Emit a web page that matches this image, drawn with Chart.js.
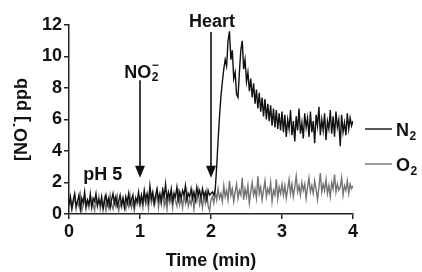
<!DOCTYPE html>
<html>
<head>
<meta charset="utf-8">
<script src="https://cdn.jsdelivr.net/npm/chart.js@4.4.0/dist/chart.umd.min.js"></script>
<style>
  html, body { margin: 0; padding: 0; background: #fff; }
  #wrap { width: 422px; height: 272px; position: relative; }
</style>
</head>
<body>
<div id="wrap"><canvas id="nochart"></canvas></div>
<script>
// sampling interval of the trace, in minutes
const sampleStep = 0.02;

// [NO] in ppb, one value per sample, 0 - 4 min
const n2Values = [
  0.6, 1.1, 0.4, 0.9, 1.3, 0.5, 0.8, 1.2, 0.3, 1.0,
  0.7, 1.4, 0.5, 0.9, 0.6, 1.2, 0.4, 1.0, 0.8, 1.3,
  0.5, 0.9, 0.6, 1.1, 0.3, 0.8, 1.2, 0.6, 1.0, 0.4,
  0.9, 1.3, 0.7, 1.1, 0.5, 0.8, 1.2, 0.6, 1.0, 0.4,
  1.1, 0.7, 1.3, 0.6, 0.9, 1.2, 0.5, 1.0, 0.8, 1.4, 0.7,
  1.2, 0.7, 1.5, 0.9, 1.3, 0.8, 1.8, 1.0, 1.4, 0.7,
  1.2, 1.6, 0.9, 1.3, 0.8, 1.5, 1.1, 1.9, 0.9, 1.4,
  1.0, 1.6, 0.8, 1.3, 1.1, 1.7, 0.9, 1.4, 1.0, 1.5,
  1.2, 1.8, 0.9, 1.3, 1.1, 1.6, 1.0, 1.4, 0.9, 1.7,
  1.2, 1.5, 1.0, 1.6, 1.1, 1.4, 0.9, 1.5, 1.2, 1.3,
  1.4, 1.2,
  1.6, 3.0, 4.7, 6.2, 7.5, 8.4, 9.2, 9.8, 9.4, 11.0,
  11.6, 9.8, 10.4, 8.6, 9.0, 7.6, 7.4, 9.0, 10.4, 11.0,
  9.2, 9.8, 8.4, 9.0, 7.8, 8.6, 7.4, 8.3, 7.0, 7.9,
  6.7, 7.7, 6.5, 7.4, 6.2, 7.3, 6.0, 7.0, 5.9, 6.9,
  5.6, 6.7, 5.5, 6.6, 5.4, 6.4, 5.3, 6.5,
  5.2, 6.3, 4.9, 6.0, 5.4, 6.6, 5.0, 5.9, 4.6, 6.2,
  5.3, 6.7, 5.1, 5.8, 4.8, 6.4, 5.5, 6.1, 4.9, 6.5,
  5.2, 5.9, 4.5, 6.3, 5.6, 6.8, 5.0, 6.0, 5.3, 6.4,
  4.7, 5.9, 5.4, 6.6, 5.1, 6.2, 4.9, 6.5, 5.5, 6.0,
  4.3, 6.3, 5.2, 5.8, 5.0, 6.4, 5.4, 6.1, 5.6, 5.9
];

const o2Values = [
  0.4, 0.9, 0.2, 0.7, 1.1, 0.3, 0.8, 0.5, 1.2, 0.2,
  0.6, 1.0, 0.3, 0.8, 0.4, 1.3, 0.5, 0.7, 0.2, 0.9,
  0.6, 1.1, 0.3, 0.7, 0.5, 1.0, 0.2, 0.8, 0.4, 1.2,
  0.6, 0.3, 0.9, 0.5, 1.1, 0.2, 0.7, 0.4, 1.0, 0.6,
  0.3, 0.9, 0.5, 1.2, 0.4, 0.8, 0.2, 1.0, 0.6, 0.9, 0.5,
  1.0, 0.4, 1.3, 0.6, 0.9, 0.3, 1.5, 0.7, 1.1, 0.5,
  0.8, 1.4, 0.4, 1.0, 0.6, 1.7, 0.5, 0.9, 0.3, 1.2,
  0.7, 1.1, 0.4, 1.3, 0.8, 0.5, 1.6, 0.6, 1.0, 0.4,
  1.2, 0.7, 1.4, 0.5, 0.9, 0.6, 1.3, 0.3, 1.1, 0.8,
  1.5, 0.6, 1.0, 0.4, 1.2, 0.7, 1.4, 0.5, 0.2, 0.9,
  1.1, 0.7, 1.4, 0.9, 1.6, 1.0, 1.3, 0.8, 1.8, 1.1,
  1.5, 0.9, 2.1, 1.2, 1.6, 0.8, 1.4, 1.9, 1.0, 1.5,
  1.2, 2.3, 0.9, 1.6, 1.1, 1.8, 0.7, 1.4, 2.0, 1.2,
  1.6, 1.0, 2.4, 1.3, 1.7, 0.9, 1.5, 2.1, 1.1, 1.6,
  1.3, 2.0, 0.8, 1.5, 1.2, 2.2, 1.0, 1.7, 1.3, 1.9,
  1.2, 1.8, 1.0, 1.6, 2.2, 1.3, 1.9, 1.1, 1.7, 2.4,
  1.4, 1.8, 1.2, 2.0, 1.5, 1.9, 1.0, 1.7, 2.3, 1.4,
  1.8, 1.3, 2.1, 1.6, 0.9, 1.7, 2.6, 1.4, 1.9, 1.5,
  2.2, 1.3, 1.8, 1.1, 2.0, 1.6, 2.5, 1.4, 1.9, 1.5,
  1.7, 2.3, 1.2, 1.8, 1.5, 2.1, 1.3, 1.9, 1.6, 1.8
];

const xTicks = [0, 1, 2, 3, 4];
const yTicks = [0, 2, 4, 6, 8, 10, 12];

// events marked on the trace (time in min, arrow from/to in ppb)
const events = [
  { text: 'NO', sub: '2', sup: '\u2212', x: 1, from: 8.5, to: 2.3 },
  { text: 'Heart', x: 2, from: 11.55, to: 2.3 }
];
const phNote = { text: 'pH 5', x: 0.2, y: 1.9 };

const font = 'Liberation Sans, Arial, Helvetica, sans-serif';
const ink = '#111';

const toPoints = vals => vals.map((v, i) => ({ x: i * sampleStep, y: v }));

const annotate = {
  id: 'annotate',
  afterDatasetsDraw(chart) {
    const { ctx, scales: { x, y }, chartArea } = chart;
    ctx.save();
    ctx.strokeStyle = ink;
    ctx.fillStyle = ink;
    ctx.lineWidth = 1.6;
    events.forEach(ev => {
      const px = x.getPixelForValue(ev.x);
      const top = y.getPixelForValue(ev.from);
      const tip = y.getPixelForValue(ev.to);
      ctx.beginPath();
      ctx.moveTo(px, top);
      ctx.lineTo(px, tip - 8);
      ctx.stroke();
      ctx.beginPath();
      ctx.moveTo(px - 5, tip - 12);
      ctx.lineTo(px + 5, tip - 12);
      ctx.lineTo(px, tip);
      ctx.closePath();
      ctx.fill();

      ctx.textBaseline = 'alphabetic';
      ctx.textAlign = 'left';
      ctx.font = 'bold 18px ' + font;
      const w = ctx.measureText(ev.text).width;
      let subW = 0;
      if (ev.sub) {
        ctx.font = 'bold 12px ' + font;
        subW = ctx.measureText(ev.sub).width;
      }
      const base = ev.sub ? top - 2 : top - 5;
      const x0 = px - (w + subW) / 2 + 1;
      ctx.font = 'bold 18px ' + font;
      ctx.fillText(ev.text, x0, base);
      if (ev.sub) {
        ctx.font = 'bold 12px ' + font;
        ctx.fillText(ev.sub, x0 + w + 0.5, base + 3);
        ctx.fillText(ev.sup, x0 + w + 0.5, base - 9);
      }
    });

    ctx.font = 'bold 18px ' + font;
    ctx.textAlign = 'left';
    ctx.textBaseline = 'middle';
    ctx.fillText(phNote.text, x.getPixelForValue(phNote.x), y.getPixelForValue(phNote.y) - 9);

    // legend at the right of the traces
    const legendY = [129, 164];
    chart.data.datasets.forEach((ds, i) => {
      const ly = legendY[i];
      const lx = chartArea.right + 12;
      ctx.strokeStyle = ds.borderColor;
      ctx.lineWidth = 1.4;
      ctx.beginPath();
      ctx.moveTo(lx, ly);
      ctx.lineTo(lx + 27, ly);
      ctx.stroke();
      ctx.fillStyle = ink;
      ctx.textBaseline = 'alphabetic';
      ctx.font = 'bold 18px ' + font;
      ctx.fillText(ds.label, lx + 31, ly + 7);
      const w = ctx.measureText(ds.label).width;
      ctx.font = 'bold 12px ' + font;
      ctx.fillText(ds.sub, lx + 31 + w + 0.5, ly + 11);
    });
    ctx.restore();
  }
};

const axisFont = { family: font, size: 18, weight: 'bold' };

new Chart(document.getElementById('nochart'), {
  type: 'line',
  data: {
    datasets: [
      {
        label: 'N', sub: '2',
        data: toPoints(n2Values),
        borderColor: '#111',
        borderWidth: 1.4,
        pointRadius: 0,
        tension: 0
      },
      {
        label: 'O', sub: '2',
        data: toPoints(o2Values),
        borderColor: '#737373',
        borderWidth: 1.4,
        pointRadius: 0,
        tension: 0
      }
    ]
  },
  options: {
    responsive: true,
    maintainAspectRatio: false,
    animation: false,
    layout: { padding: { top: 25, right: 69, left: 0, bottom: 0 } },
    plugins: { legend: { display: false }, tooltip: { enabled: false } },
    scales: {
      x: {
        type: 'linear', min: 0, max: 4,
        afterBuildTicks: s => { s.ticks = xTicks.map(v => ({ value: v })); },
        afterFit: s => { s.height = 58; },
        grid: { drawOnChartArea: false, drawTicks: true, tickLength: 5, color: '#222', lineWidth: 1.5 },
        border: { display: true, color: '#222', width: 1.5 },
        ticks: { color: ink, font: axisFont, padding: 2, maxRotation: 0 },
        title: { display: true, text: 'Time (min)', color: ink, font: axisFont, padding: 0 }
      },
      y: {
        min: 0, max: 12,
        afterBuildTicks: s => { s.ticks = yTicks.map(v => ({ value: v })); },
        afterFit: s => { s.width = 69; },
        grid: { drawOnChartArea: false, drawTicks: true, tickLength: 5, color: '#222', lineWidth: 1.5 },
        border: { display: true, color: '#222', width: 1.5 },
        ticks: { color: ink, font: axisFont, padding: 2 },
        title: { display: true, text: '[NO\u02D9] ppb', color: ink, font: axisFont, padding: { top: 11, bottom: 0 } }
      }
    }
  },
  plugins: [annotate]
});
</script>
</body>
</html>
